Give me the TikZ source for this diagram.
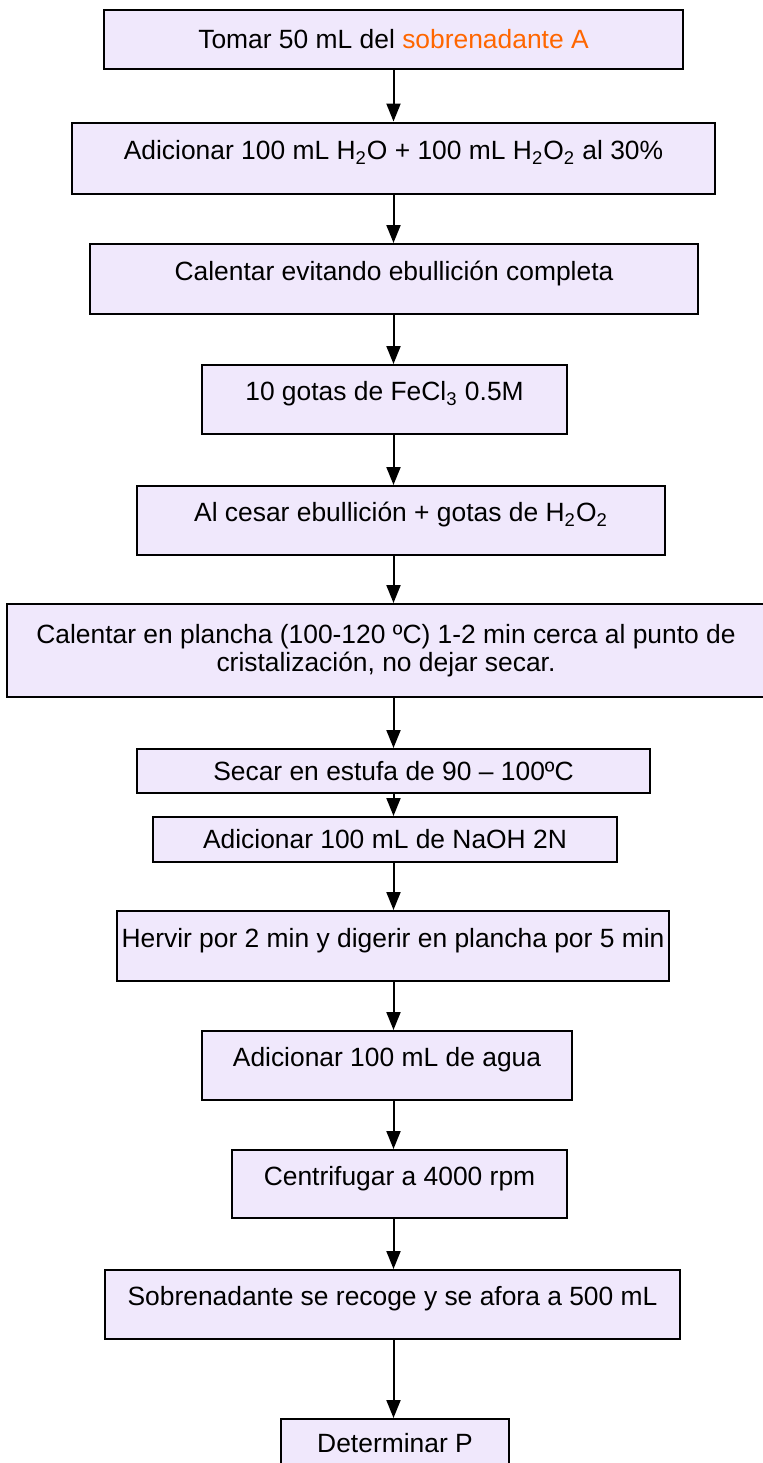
\documentclass[tikz,border=0pt]{standalone}
\usepackage{fontspec}
\setmainfont{Liberation Sans}
\usetikzlibrary{arrows.meta}
\definecolor{boxfill}{RGB}{240,232,252}
\definecolor{sobre}{RGB}{255,102,0}

\begin{document}
\begin{tikzpicture}[x=.5pt,y=-.5pt,>={Triangle[width=7pt,length=9pt]},
 stepbox/.style={draw,fill=boxfill,line width=1pt,inner sep=0pt,font=\fontsize{13.2}{14}\selectfont},
 tallbox/.style={stepbox,text height=10pt,text depth=8.6pt},
 flatbox/.style={stepbox,text height=10pt,text depth=.6pt},
 flow/.style={->,line width=1pt}]
 \useasboundingbox (0,0) rectangle (763,1463);
 \coordinate (axis) at (393.5,0);
 \node[flatbox,minimum width=289.5pt,minimum height=29.5pt] (s1) at (393.5,39.5) {Tomar 50 mL del \textcolor{sobre}{sobrenadante A}};
 \node[tallbox,minimum width=321.5pt,minimum height=35.5pt] (s2) at (393.5,158) {Adicionar 100 mL H\textsubscript{2}O + 100 mL H\textsubscript{2}O\textsubscript{2} al 30\%};
 \node[tallbox,minimum width=304pt,minimum height=35pt] (s3) at (394,279) {Calentar evitando ebullición completa};
 \node[tallbox,minimum width=182.5pt,minimum height=34.5pt] (s4) at (384.5,399.5) {10 gotas de FeCl\textsubscript{3} 0.5M};
 \node[tallbox,minimum width=264pt,minimum height=34.5pt] (s5) at (401,520.5) {Al cesar ebullición + gotas de H\textsubscript{2}O\textsubscript{2}};
 \node[stepbox,align=center,minimum width=379pt,minimum height=46.5pt] (s6) at (386,650.5) {Calentar en plancha (100-120 ºC) 1-2 min cerca al punto de\\cristalización, no dejar secar.};
 \node[flatbox,minimum width=256.5pt,minimum height=22pt] (s7) at (393.5,771) {Secar en estufa de 90 – 100ºC};
 \node[flatbox,minimum width=232pt,minimum height=22.5pt] (s8) at (385,839.5) {Adicionar 100 mL de NaOH 2N};
 \node[tallbox,minimum width=276pt,minimum height=35pt] (s9) at (393,946) {Hervir por 2 min y digerir en plancha por 5 min};
 \node[tallbox,minimum width=185pt,minimum height=34.5pt] (s10) at (387,1065.5) {Adicionar 100 mL de agua};
 \node[tallbox,minimum width=167.5pt,minimum height=34pt] (s11) at (399.5,1184) {Centrifugar a 4000 rpm};
 \node[tallbox,minimum width=287.5pt,minimum height=34.5pt] (s12) at (392.5,1304.5) {Sobrenadante se recoge y se afora a 500 mL};
 \node[flatbox,minimum width=114pt,minimum height=24pt] (s13) at (395,1443) {Determinar P};
 \draw[flow] (s1.south -| axis)--(s2.north -| axis);\draw[flow] (s2.south -| axis)--(s3.north -| axis);
 \draw[flow] (s3.south -| axis)--(s4.north -| axis);\draw[flow] (s4.south -| axis)--(s5.north -| axis);
 \draw[flow] (s5.south -| axis)--(s6.north -| axis);\draw[flow] (s6.south -| axis)--(s7.north -| axis);
 \draw[flow] (s7.south -| axis)--(s8.north -| axis);\draw[flow] (s8.south -| axis)--(s9.north -| axis);
 \draw[flow] (s9.south -| axis)--(s10.north -| axis);\draw[flow] (s10.south -| axis)--(s11.north -| axis);
 \draw[flow] (s11.south -| axis)--(s12.north -| axis);\draw[flow] (s12.south -| axis)--(s13.north -| axis);
\end{tikzpicture}
\end{document}
